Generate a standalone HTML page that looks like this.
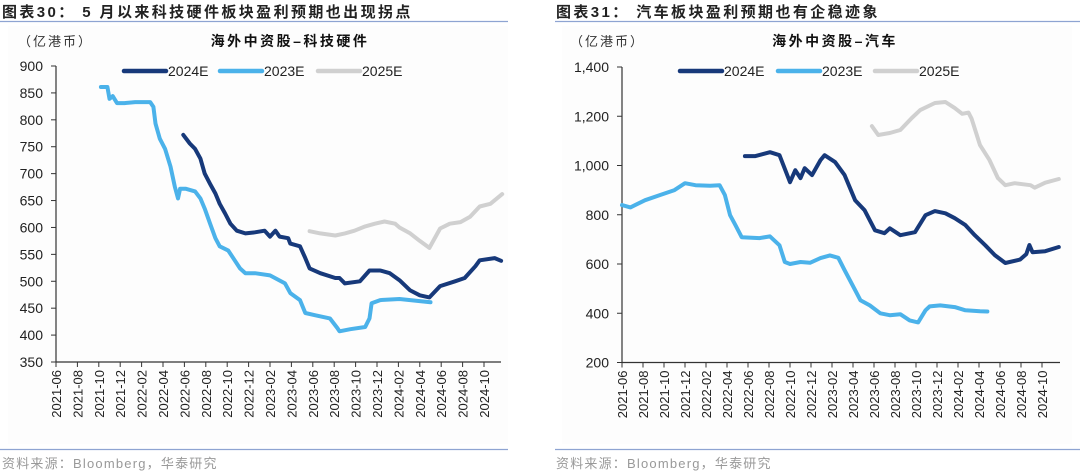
<!DOCTYPE html>
<html><head><meta charset="utf-8">
<style>
body{margin:0;background:#fff;}
#wrap{position:relative;width:1080px;height:474px;overflow:hidden;font-family:"Liberation Sans","Noto Sans CJK SC",sans-serif;}
svg text{font-family:"Liberation Sans","Noto Sans CJK SC",sans-serif;}
</style></head>
<body>
<div id="wrap">
<svg id="svg" width="1080" height="474" viewBox="0 0 1080 474">
  <rect x="0" y="0" width="1080" height="474" fill="#fff"/>
  <rect x="8" y="26" width="500" height="418" fill="#fdfdfd"/>
  <rect x="562" y="26" width="510" height="418" fill="#fdfdfd"/>
  <text x="2" y="17" font-size="15" font-weight="bold" fill="#222" letter-spacing="2.4">图表30：  5 月以来科技硬件板块盈利预期也出现拐点</text>
  <text x="556" y="17" font-size="15" font-weight="bold" fill="#222" letter-spacing="2.4">图表31：  汽车板块盈利预期也有企稳迹象</text>
  <line x1="0" y1="21.5" x2="508" y2="21.5" stroke="#8ea4d2" stroke-width="1.2"/>
  <line x1="555" y1="21.5" x2="1080" y2="21.5" stroke="#8ea4d2" stroke-width="1.2"/>
  <line x1="0" y1="449.5" x2="508" y2="449.5" stroke="#8ea4d2" stroke-width="1.2"/>
  <line x1="555" y1="449.5" x2="1080" y2="449.5" stroke="#8ea4d2" stroke-width="1.2"/>
  <text x="2" y="468" font-size="13" fill="#999" letter-spacing="1.2">资料来源：Bloomberg，华泰研究</text>
  <text x="556" y="468" font-size="13" fill="#999" letter-spacing="1.2">资料来源：Bloomberg，华泰研究</text>
  <g id="left"></g>
  <g id="right"></g>
</svg>
</div>
<script>
// ---- shared categories ----
const xTickLabels = ["2021-06","2021-08","2021-10","2021-12","2022-02","2022-04","2022-06","2022-08","2022-10","2022-12","2023-02","2023-04","2023-06","2023-08","2023-10","2023-12","2024-02","2024-04","2024-06","2024-08","2024-10"];
const seriesNames = ["2024E","2023E","2025E"];

// ---- left chart data (months since 2021-06, values in 亿港币) ----
const leftYTicks = [900,850,800,750,700,650,600,550,500,450,400,350];
const L23m = [4.2,4.8,5.0,5.3,5.7,6.4,7.4,8.8,9.1,9.3,9.7,10.2,10.7,11.1,11.4,11.6,12.1,13.0,13.5,13.9,14.4,14.9,15.3,16.1,16.7,17.2,17.7,18.6,20.0,21.4,21.9,22.8,23.3,24.2,25.6,26.3,26.5,27.5,28.9,29.3,29.5,30.3,32.1,35.0];
const L23v = [861,861,839,844,831,831,833,833,824,793,765,746,713,676,654,672,672,667,654,635,607,580,565,557,539,524,515,515,511,496,478,465,441,437,431,413,407,411,415,431,459,465,467,461];
const L24m = [11.9,12.5,13.0,13.5,13.9,14.4,14.9,15.3,15.8,16.3,16.9,17.7,18.6,19.5,20.0,20.5,20.9,21.7,21.9,22.8,23.3,23.7,24.7,26.1,26.5,27.0,28.4,29.3,30.3,31.2,32.1,33.1,34.0,34.9,35.9,37.3,38.2,39.2,39.6,41.0,41.6];
const L24v = [772,756,746,728,700,681,663,644,626,607,594,589,591,594,583,594,583,580,570,565,543,524,515,506,506,496,500,520,520,515,502,483,474,470,491,500,506,528,539,543,538];
const L25m = [23.7,24.7,26.1,27.0,27.9,28.9,29.8,30.7,31.7,32.1,33.1,34.0,34.9,35.9,36.8,37.8,38.7,39.6,40.6,41.7];
const L25v = [593,589,585,589,594,602,607,611,607,600,589,575,562,598,607,610,620,639,644,662];

// ---- right chart data ----
const rightYTicks = [1400,1200,1000,800,600,400,200];
const R23m = [0,0.8,2.2,3.6,5.0,6.0,7.0,8.4,9.3,9.8,10.3,10.8,11.4,13.1,14.1,15.0,15.5,16.0,17.0,17.9,18.9,19.8,20.6,21.2,22.2,22.7,23.6,24.6,25.5,26.5,27.4,28.2,28.9,29.3,30.3,31.7,32.7,34.1,34.8];
const R23v = [839,830,859,880,900,928,920,918,920,880,798,758,709,705,712,676,608,600,608,605,624,635,625,575,494,453,432,400,392,396,371,363,412,428,432,425,412,408,407];
const R24m = [11.7,12.7,14.1,15.0,16.0,16.5,17.0,17.4,18.1,18.9,19.3,20.3,21.2,22.2,23.1,24.1,25.0,25.5,26.5,27.9,28.9,29.8,30.8,31.7,32.7,33.6,34.6,35.5,36.5,37.9,38.5,38.8,39.1,40.3,41.6];
const R24v = [1038,1038,1054,1042,932,981,949,989,961,1022,1042,1014,961,859,819,737,725,745,717,729,798,815,806,786,758,717,676,636,604,618,640,677,648,652,669];
const R25m = [23.8,24.4,25.5,26.5,27.6,28.4,29.8,30.8,31.7,32.4,33.0,33.3,34.1,35.0,35.8,36.5,37.4,38.9,39.3,40.3,41.6];
const R25v = [1160,1124,1132,1144,1193,1225,1254,1258,1233,1210,1215,1190,1083,1022,949,920,928,920,910,930,945];

const NS="http://www.w3.org/2000/svg";
const colors = {"2024E":"#17397a","2023E":"#4bb2ea","2025E":"#d0d0d0"};
function mk(tag, attrs, parent){const e=document.createElementNS(NS,tag);for(const k in attrs)e.setAttribute(k,attrs[k]);parent.appendChild(e);return e;}

function drawChart(g, cfg){
  const xs = m => cfg.x0 + m*cfg.pxPerMonth;
  const ys = v => cfg.yTop + (cfg.yMax - v)/(cfg.yMax-cfg.yMin)*(cfg.yBot-cfg.yTop);
  let t=mk('text',{x:cfg.unitX,y:46,'font-size':13,fill:'#333','letter-spacing':2},g);t.textContent='（亿港币）';
  
  
  t=mk('text',{x:cfg.titleX,y:46,'font-size':14,'font-weight':'bold',fill:'#111','text-anchor':'middle','letter-spacing':2.5},g);t.textContent=cfg.title;
  
  
  let a=mk('line',{x1:cfg.x0,y1:cfg.yTop,x2:cfg.x0,y2:cfg.yBot,stroke:'#333','stroke-width':1.2},g);
  
  
  cfg.yTicks.forEach(v=>{
    const y=ys(v);
    const tk=mk('line',{x1:cfg.x0-5,y1:y,x2:cfg.x0,y2:y,stroke:'#333','stroke-width':1},g);
    
    
    const lb=mk('text',{x:cfg.x0-13,y:y+5,'font-size':14,fill:'#222','text-anchor':'end'},g);
    lb.textContent=v.toLocaleString('en-US');
    
    
  });
  a=mk('line',{x1:cfg.x0,y1:cfg.yBot,x2:cfg.xEnd,y2:cfg.yBot,stroke:'#333','stroke-width':1.2},g);
  
  
  xTickLabels.forEach((lab,i)=>{
    const x=xs(i*2);
    const tk=mk('line',{x1:x,y1:cfg.yBot,x2:x,y2:cfg.yBot+5,stroke:'#333','stroke-width':1},g);
    
    
    const lb=mk('text',{x:0,y:0,'font-size':13,fill:'#222','text-anchor':'end',transform:`translate(${x+5},${cfg.yBot+8}) rotate(-90)`},g);
    lb.textContent=lab;
    
    
  });
  [["2025E",cfg.s25m,cfg.s25v],["2023E",cfg.s23m,cfg.s23v],["2024E",cfg.s24m,cfg.s24v]].forEach(([n,ms,vs])=>{
    const d=ms.map((m,i)=>(i?'L':'M')+xs(m).toFixed(1)+' '+ys(vs[i]).toFixed(1)).join(' ');
    const p=mk('path',{d:d,fill:'none',stroke:colors[n],'stroke-width':4,'stroke-linejoin':'round','stroke-linecap':'round'},g);
    
    
  });
  seriesNames.forEach((n,i)=>{
    const lx=cfg.legX[i];
    const ln=mk('line',{x1:lx,y1:71,x2:lx+42,y2:71,stroke:colors[n],'stroke-width':4.5,'stroke-linecap':'round'},g);
    
    
    const tx=mk('text',{x:lx+44,y:76,'font-size':14,fill:'#222'},g);
    tx.textContent=n;
    
    
  });
}

drawChart(document.getElementById('left'),{
  x0:56,pxPerMonth:10.7,xEnd:501,yTop:66,yBot:362,yMax:900,yMin:350,yTicks:leftYTicks,
  unitX:18,titleX:290,title:'海外中资股–科技硬件',legX:[124,220,318],
  s23m:L23m,s23v:L23v,s24m:L24m,s24v:L24v,s25m:L25m,s25v:L25v
});
drawChart(document.getElementById('right'),{
  x0:622,pxPerMonth:10.5,xEnd:1060,yTop:67,yBot:362.5,yMax:1400,yMin:200,yTicks:rightYTicks,
  unitX:570,titleX:835,title:'海外中资股–汽车',legX:[680,778,875],
  s23m:R23m,s23v:R23v,s24m:R24m,s24v:R24v,s25m:R25m,s25v:R25v
});
</script>
</body></html>
